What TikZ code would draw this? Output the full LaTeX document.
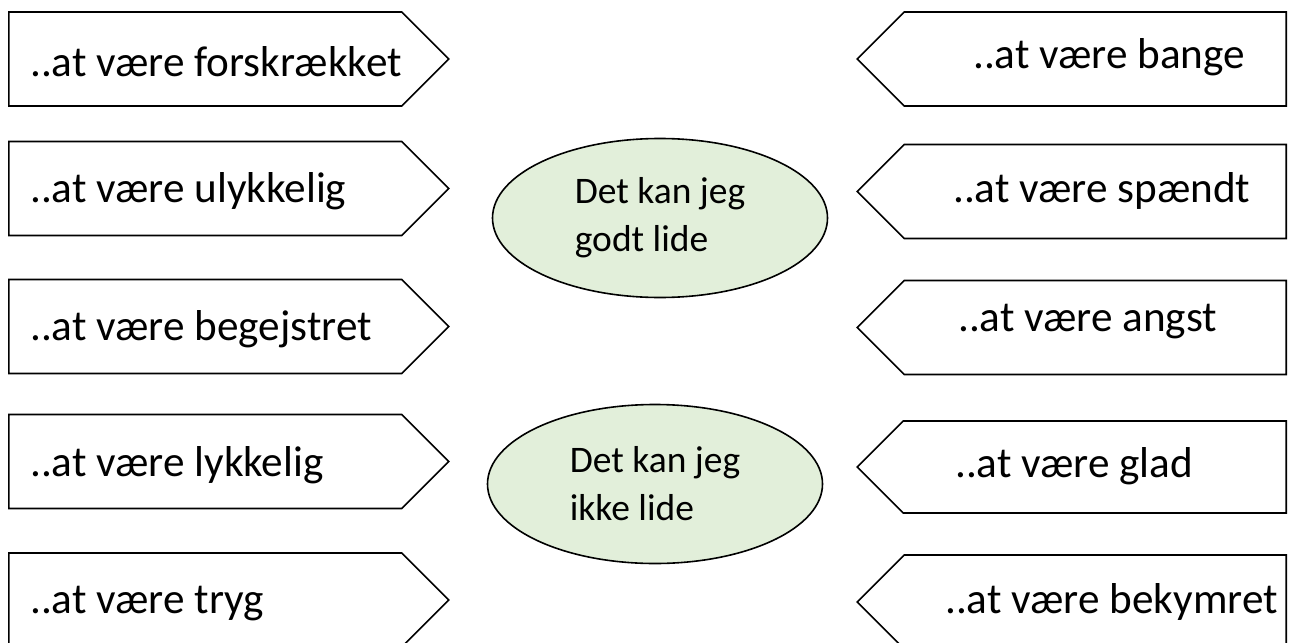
\documentclass[tikz,border=0pt]{standalone}
\usepackage{fontspec}
\setmainfont{Carlito}
\usepackage{tikz}
\usetikzlibrary{shapes.symbols,shapes.geometric}
\definecolor{lightgreen}{HTML}{E2EFDA}

\begin{document}
\begin{tikzpicture}[x=1pt,y=-1pt,
    feeling/.style={draw,line width=1.6pt,signal,signal from=nowhere,signal pointer angle=90,minimum height=94pt,inner sep=0pt},
    leftsign/.style={feeling,signal to=east,anchor=west,minimum width=440pt},
    rightsign/.style={feeling,signal to=west,anchor=east,minimum width=429pt},
    word/.style={font=\fontsize{43.2}{50}\selectfont,inner sep=0pt,anchor=base west},
    choice/.style={draw,line width=1.6pt,ellipse,fill=lightgreen,minimum width=335pt,minimum height=159pt,align=left,font=\fontsize{37.5}{48}\selectfont}]
      \path[use as bounding box,clip] (0,0) rectangle (1289,642);
      % Left column
      \node[leftsign] (left1) at (8,59) {};
      \node[word] (forskraekket) at (30,77) {..at være forskrækket};
      \node[leftsign] (left2) at (8,188.5) {};
      \node[word] (ulykkelig) at (30,202) {..at være ulykkelig};
      \node[leftsign] (left3) at (8,326.5) {};
      \node[word] (begejstret) at (30,340) {..at være begejstret};
      \node[leftsign] (left4) at (8,461.5) {};
      \node[word] (lykkelig) at (30,476) {..at være lykkelig};
      \node[leftsign] (left5) at (8,600) {};
      \node[word] (tryg) at (30,613) {..at være tryg};

      % Middle
      \node[choice] (godt) at (660,218) {Det kan jeg\\godt lide};
      \node[choice] (ikke) at (655,484) {Det kan jeg\\ikke lide};

      % Right column
      \node[rightsign] (right1) at (1287,59) {};
      \node[word] (bange) at (973,68) {..at være bange};
      \node[rightsign] (right2) at (1287,191.5) {};
      \node[word] (spaendt) at (953,202) {..at være spændt};
      \node[rightsign] (right3) at (1287,327.5) {};
      \node[word] (angst) at (958,331) {..at være angst};
      \node[rightsign,minimum height=92pt] (right4) at (1287,467) {};
      \node[word] (glad) at (955,477) {..at være glad};
      \node[rightsign] (right5) at (1287,602) {};
      \node[word] (bekymret) at (945,613) {..at være bekymret};
\end{tikzpicture}
\end{document}
